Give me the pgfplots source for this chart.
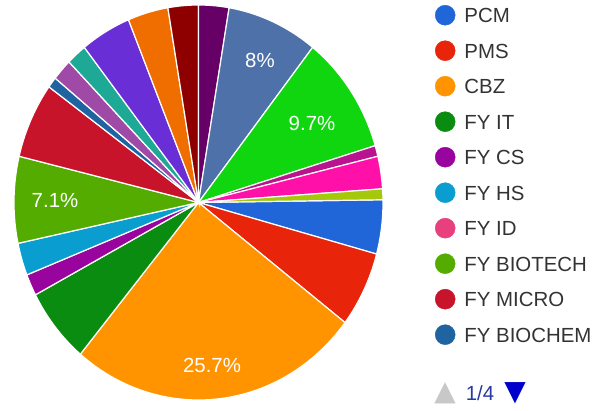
\documentclass[border=0pt]{standalone}
\usepackage{pgfplots}
\pgfplotsset{compat=1.18}
\usepackage{fontspec}
\setmainfont{Liberation Sans}
\newfontfamily\symfont{DejaVu Sans}
\definecolor{c1}{HTML}{2166D8}
\definecolor{c2}{HTML}{E8240A}
\definecolor{c3}{HTML}{FF9400}
\definecolor{c4}{HTML}{0A8C10}
\definecolor{c5}{HTML}{9A049E}
\definecolor{c6}{HTML}{0A9ED0}
\definecolor{c7}{HTML}{E8407F}
\definecolor{c8}{HTML}{55AC00}
\definecolor{c9}{HTML}{C8142A}
\definecolor{c10}{HTML}{1F63A0}
\definecolor{c11}{HTML}{A04AA8}
\definecolor{c12}{HTML}{1EA896}
\definecolor{c13}{HTML}{AAAA11}
\definecolor{c14}{HTML}{6A2ED6}
\definecolor{c15}{HTML}{F06E00}
\definecolor{c16}{HTML}{8E0000}
\definecolor{c17}{HTML}{660066}
\definecolor{c18}{HTML}{329262}
\definecolor{c19}{HTML}{4D71A8}
\definecolor{c20}{HTML}{3B3EAC}
\definecolor{c21}{HTML}{B77322}
\definecolor{c22}{HTML}{10D610}
\definecolor{c23}{HTML}{B9138F}
\definecolor{c24}{HTML}{FF10A8}
\definecolor{c25}{HTML}{9C5935}
\definecolor{c26}{HTML}{A6C80A}
\definecolor{txt}{HTML}{333333}
\definecolor{pgray}{HTML}{C8C8C8}
\definecolor{pnavy}{HTML}{2A3AA0}
\definecolor{pblue}{HTML}{0000CC}
\begin{document}
\begin{tikzpicture}
\pgfmathsetmacro\step{360/113}
\pgfmathsetmacro\startangle{90-28*\step}
\gdef\cum{0}
\foreach \v [count=\i] in {5,7,29,7,2,3,0,8,7,1,2,2,0,5,4,3,3,0,9,0,0,11,1,3,0,1}{
  \pgfmathsetmacro\a{\startangle-\cum*\step}
  \pgfmathsetmacro\nc{\cum+\v}
  \pgfmathsetmacro\b{\startangle-\nc*\step}
  \expandafter\xdef\csname sa\i\endcsname{\a}
  \expandafter\xdef\csname ea\i\endcsname{\b}
  \xdef\cum{\nc}
}
\begin{axis}[
  at={(0,0)}, anchor=south west,
  width=610bp, height=411bp, scale only axis,
  xmin=0, xmax=610, ymin=0, ymax=411,
  hide axis, clip=false,
  legend style={at={(axis cs:435,406)}, anchor=north west, draw=none, fill=none,
    inner sep=0pt, outer sep=0pt, font=\fontsize{20.5}{24}\selectfont, text=txt,
    row sep=15.1bp, nodes={inner sep=0pt, text height=15bp, text depth=0pt}},
  legend cell align=left,
]
\pgfplotsinvokeforeach{1,2,3,4,5,6,8,9,10,11,12,14,15,16,17,19,22,23,24,26}{
  \addplot[fill=c#1, draw=white, line width=1.2bp,
    domain=\csname ea#1\endcsname:\csname sa#1\endcsname, samples=80, variable=\t, forget plot]
    ({198.5+184.5*cos(\t)},{208.5+197.5*sin(\t)}) -- (198.5,208.5) -- cycle;
}
\addlegendimage{legend image code/.code={\fill[c1] (10bp,0) circle[radius=10bp]; \path (29bp,0);}}
\addlegendentry{PCM}
\addlegendimage{legend image code/.code={\fill[c2] (10bp,0) circle[radius=10bp]; \path (29bp,0);}}
\addlegendentry{PMS}
\addlegendimage{legend image code/.code={\fill[c3] (10bp,0) circle[radius=10bp]; \path (29bp,0);}}
\addlegendentry{CBZ}
\addlegendimage{legend image code/.code={\fill[c4] (10bp,0) circle[radius=10bp]; \path (29bp,0);}}
\addlegendentry{FY IT}
\addlegendimage{legend image code/.code={\fill[c5] (10bp,0) circle[radius=10bp]; \path (29bp,0);}}
\addlegendentry{FY CS}
\addlegendimage{legend image code/.code={\fill[c6] (10bp,0) circle[radius=10bp]; \path (29bp,0);}}
\addlegendentry{FY HS}
\addlegendimage{legend image code/.code={\fill[c7] (10bp,0) circle[radius=10bp]; \path (29bp,0);}}
\addlegendentry{FY ID}
\addlegendimage{legend image code/.code={\fill[c8] (10bp,0) circle[radius=10bp]; \path (29bp,0);}}
\addlegendentry{FY BIOTECH}
\addlegendimage{legend image code/.code={\fill[c9] (10bp,0) circle[radius=10bp]; \path (29bp,0);}}
\addlegendentry{FY MICRO}
\addlegendimage{legend image code/.code={\fill[c10] (10bp,0) circle[radius=10bp]; \path (29bp,0);}}
\addlegendentry{FY BIOCHEM}
\node[text=white, font=\fontsize{20.5}{24}\selectfont] at (axis cs:260,351) {8\%};
\node[text=white, font=\fontsize{20.5}{24}\selectfont] at (axis cs:312,288) {9.7\%};
\node[text=white, font=\fontsize{20.5}{24}\selectfont] at (axis cs:55,211) {7.1\%};
\node[text=white, font=\fontsize{20.5}{24}\selectfont] at (axis cs:212,46) {25.7\%};
\node[text=pgray, font=\symfont\fontsize{28}{28}\selectfont] at (axis cs:445,18) {▲};
\node[text=pnavy, font=\fontsize{20.5}{24}\selectfont] at (axis cs:480,18) {1/4};
\node[text=pblue, font=\symfont\fontsize{28}{28}\selectfont] at (axis cs:515,18) {▼};
\end{axis}
\pgfresetboundingbox
\useasboundingbox (0,0) rectangle (610bp,411bp);
\end{tikzpicture}
\end{document}
